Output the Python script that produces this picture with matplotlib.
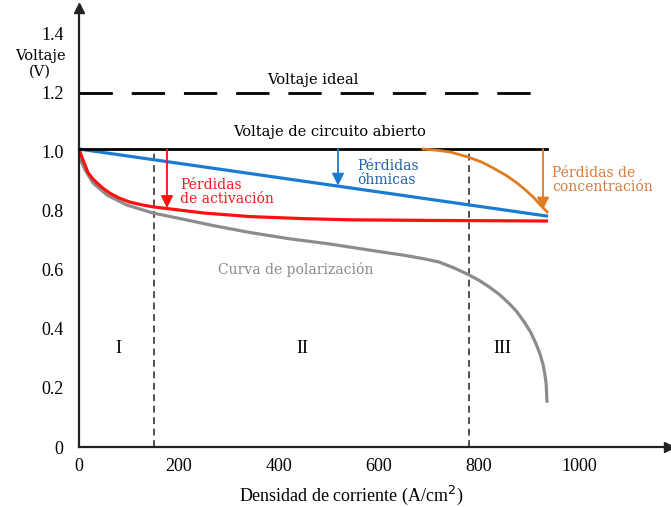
import matplotlib
matplotlib.use("Agg")
import matplotlib.pyplot as plt

# curva de polarización (gris)
pol_x = [0, 4, 12, 28, 56, 96, 148, 200, 270, 342, 420, 502, 602, 650, 690,
         720, 750, 778, 800, 820, 840, 860, 875, 890, 903, 914, 922, 928, 932,
         934.5, 936]
pol_y = [1.0, 0.97, 0.94, 0.895, 0.854, 0.82, 0.793, 0.775, 0.75, 0.727,
         0.706, 0.688, 0.662, 0.65, 0.638, 0.627, 0.607, 0.585, 0.565, 0.543,
         0.518, 0.487, 0.46, 0.425, 0.39, 0.35, 0.315, 0.28, 0.245, 0.21, 0.15]

# pérdidas de activación (rojo)
act_x = [0, 4, 8, 18, 27, 36, 48, 62, 80, 102, 125, 148, 182, 250, 342, 450,
         542, 700, 935]
act_y = [1.01, 0.99, 0.973, 0.93, 0.91, 0.895, 0.877, 0.86, 0.844, 0.83, 0.821,
         0.814, 0.807, 0.793, 0.781, 0.774, 0.77, 0.768, 0.766]

# pérdidas óhmicas (azul)
ohm_x = [0, 935]
ohm_y = [1.01, 0.783]

# pérdidas de concentración (naranja)
conc_x = [688, 715, 742, 778, 805, 828, 855, 876, 895, 908, 922, 936]
conc_y = [1.01, 1.006, 1.0, 0.983, 0.966, 0.946, 0.92, 0.895, 0.868, 0.848,
          0.822, 0.797]

v_ideal = 1.2
v_ocv = 1.01
region_bounds = [150, 780]
region_names = ["I", "II", "III"]
region_x = [78, 446, 846]

xticks = [0, 200, 400, 600, 800, 1000]
yticks = [0, 0.2, 0.4, 0.6, 0.8, 1.0, 1.2, 1.4]
ytick_labels = ["0", "0.2", "0.4", "0.6", "0.8", "1.0", "1.2", "1.4"]

serif_ticks = "Liberation Serif"
serif_text = "DejaVu Serif"

fig = plt.figure(figsize=(6.71, 5.07), dpi=100)
ax = fig.add_axes([79 / 671, 60 / 507, 590 / 671, 439 / 507])
ax.set_xlim(0, 1180)
ax.set_ylim(0, 1.488)

for s in ["top", "right"]:
    ax.spines[s].set_visible(False)
for s in ["left", "bottom"]:
    ax.spines[s].set_linewidth(1.6)
    ax.spines[s].set_color("#222222")
ax.plot(1, 0, ">", color="#222222", ms=7, transform=ax.transAxes, clip_on=False)
ax.plot(0, 1, "^", color="#222222", ms=7, transform=ax.transAxes, clip_on=False)

ax.set_xticks(xticks)
ax.set_yticks(yticks)
ax.set_yticklabels(ytick_labels)
ax.tick_params(length=0, labelsize=13)
ax.tick_params(axis="x", pad=8)
ax.tick_params(axis="y", pad=11)
for lab in ax.get_xticklabels() + ax.get_yticklabels():
    lab.set_fontfamily(serif_ticks)

# voltajes de referencia
ax.plot([0, 920], [v_ideal, v_ideal], color="black", lw=2,
        dashes=(12, 6.8), solid_capstyle="butt")
ax.plot([0, 936], [v_ocv, v_ocv], color="black", lw=2, zorder=3)

# límites de región
for xb in region_bounds:
    ax.plot([xb, xb], [0, v_ocv], color="#222222", lw=1.1, dashes=(4.5, 3))

ax.plot(pol_x, pol_y, color="#8c8c8c", lw=2.3, solid_capstyle="butt")
ax.plot(act_x, act_y, color="#ff1010", lw=2.3)
ax.plot(ohm_x, ohm_y, color="#1a7bd0", lw=2.3)
ax.plot(conc_x, conc_y, color="#e07b20", lw=2, zorder=4)

# flechas de pérdidas
def loss_arrow(x, y_end, color):
    ax.annotate("", xy=(x, y_end), xytext=(x, v_ocv),
                arrowprops=dict(arrowstyle="-|>", color=color, lw=1.3,
                                mutation_scale=18, shrinkA=0, shrinkB=0))

loss_arrow(176, 0.81, "#ff1010")
loss_arrow(518, 0.886, "#1a7bd0")
loss_arrow(928, 0.805, "#e07b20")

ax.text(468, 1.245, "Voltaje ideal", ha="center", va="center",
        fontsize=10.5, family=serif_text)
ax.text(502, 1.067, "Voltaje de circuito abierto", ha="center", va="center",
        fontsize=10.5, family=serif_text)
ax.text(556, 0.928, "Pérdidas\nóhmicas", ha="left", va="center",
        fontsize=10, family=serif_text, color="#2260aa", linespacing=1.0)
ax.text(202, 0.864, "Pérdidas\nde activación", ha="left", va="center",
        fontsize=10, family=serif_text, color="#ee1c1c", linespacing=1.05)
ax.text(946, 0.905, "Pérdidas de\nconcentración", ha="left", va="center",
        fontsize=10, family=serif_text, color="#d87a3a", linespacing=1.05)
ax.text(434, 0.6, "Curva de polarización", ha="center", va="center",
        fontsize=10, family=serif_text, color="#8a8a8a")

for name, xr in zip(region_names, region_x):
    ax.text(xr, 0.335, name, ha="center", va="center", fontsize=13,
            family=serif_ticks)

ax.text(-78, 1.298, "Voltaje\n(V)", ha="center", va="center", fontsize=10.5,
        family=serif_text, linespacing=1.2, clip_on=False)

fig.text(351 / 671, 1 - 495 / 507, "Densidad de corriente (A/cm$^2$)",
         ha="center", va="center", fontsize=13, family=serif_ticks)

fig.savefig("out.png", dpi=100)
